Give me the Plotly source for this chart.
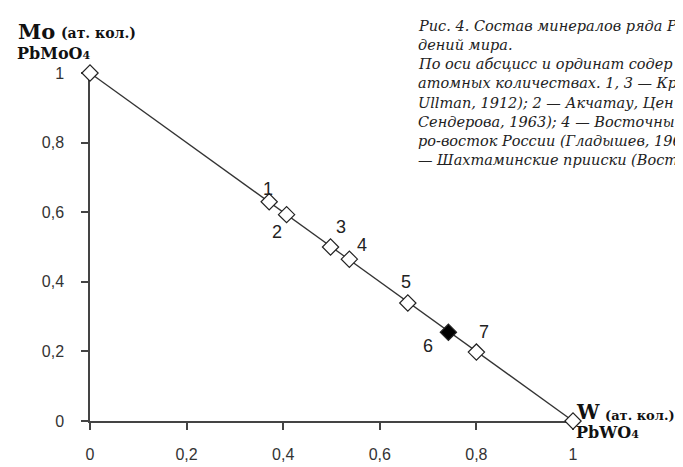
import plotly.graph_objects as go

# ---- data ----
line_x = [0, 1]
line_y = [1, 0]
end_x = [0, 1]
end_y = [1, 0]
pt_labels = ["1", "2", "3", "4", "5", "6", "7"]
pt_x = [0.371, 0.407, 0.498, 0.537, 0.658, 0.742, 0.800]
pt_y = [0.630, 0.593, 0.500, 0.465, 0.339, 0.255, 0.198]
pt_filled = [False, False, False, False, False, True, False]
tick_vals = [0, 0.2, 0.4, 0.6, 0.8, 1]
tick_text = ["0", "0,2", "0,4", "0,6", "0,8", "1"]

caption_lines = [
    "Рис. 4. Состав минералов ряда PbMo",
    "дений мира.",
    "По оси абсцисс и ординат содер",
    "атомных количествах. 1, 3 — Кра",
    "Ullman, 1912); 2 — Акчатау, Цен",
    "Сендерова, 1963); 4 — Восточны",
    "ро-восток России (Гладышев, 196",
    "— Шахтаминские прииски (Вост",
]

# ---- layout helpers (pixel -> paper) ----
W, H = 683, 467
L, R, T, B = 82, 118, 65, 37
PW, PH = W - L - R, H - T - B


def px(x):
    return (x - L) / PW


def py(y):
    return (H - B - y) / PH


label_dx = [-1, -10, 10, 13, -2, -20, 8]
label_dy = [13, -17, 20, 14, 21, -14, 20]

fig = go.Figure()
fig.add_trace(go.Scatter(
    x=line_x, y=line_y, mode="lines",
    line=dict(color="#333333", width=1.3),
    hoverinfo="skip", showlegend=False, cliponaxis=False,
))
fig.add_trace(go.Scatter(
    x=end_x, y=end_y, mode="markers",
    marker=dict(symbol="diamond", size=12.5, color="white",
                line=dict(color="#222222", width=1.2)),
    showlegend=False, cliponaxis=False,
))
fig.add_trace(go.Scatter(
    x=pt_x, y=pt_y, mode="markers",
    marker=dict(symbol="diamond", size=12.5,
                color=["black" if f else "white" for f in pt_filled],
                line=dict(color="#222222", width=1.2)),
    showlegend=False, cliponaxis=False,
))

ann = []
for lab, x, y, dx, dy in zip(pt_labels, pt_x, pt_y, label_dx, label_dy):
    ann.append(dict(x=x, y=y, xref="x", yref="y", text=lab, showarrow=False,
                    xshift=dx, yshift=dy,
                    font=dict(family="Liberation Sans", size=18, color="#222222")))

serif_b = "DejaVu Serif"
ann += [
    dict(x=px(8), y=py(21), xref="paper", yref="paper", xanchor="left", yanchor="middle",
         text="<b>Mo</b>", showarrow=False, font=dict(family=serif_b, size=21, color="#111")),
    dict(x=px(51), y=py(23), xref="paper", yref="paper", xanchor="left", yanchor="middle",
         text="<b>(ат. кол.)</b>", showarrow=False, font=dict(family=serif_b, size=14, color="#111")),
    dict(x=px(7), y=py(45), xref="paper", yref="paper", xanchor="left", yanchor="middle",
         text="<b>PbMoO<span style='font-size:11px'>4</span></b>", showarrow=False,
         font=dict(family=serif_b, size=16, color="#111")),
    dict(x=px(566), y=py(421), xref="paper", yref="paper", xanchor="left", yanchor="middle",
         text="<b>W</b>", showarrow=False, font=dict(family=serif_b, size=20, color="#111")),
    dict(x=px(595), y=py(424), xref="paper", yref="paper", xanchor="left", yanchor="middle",
         text="<b>(ат. кол.)</b>", showarrow=False, font=dict(family=serif_b, size=13, color="#111")),
    dict(x=px(566), y=py(442), xref="paper", yref="paper", xanchor="left", yanchor="middle",
         text="<b>PbWO<span style='font-size:11px'>4</span></b>", showarrow=False,
         font=dict(family=serif_b, size=16, color="#111")),
]
for i, s in enumerate(caption_lines):
    ann.append(dict(x=px(408), y=py(16 + 20 * i), xref="paper", yref="paper",
                    xanchor="left", yanchor="middle", align="left",
                    text="<i>%s</i>" % s, showarrow=False,
                    font=dict(family="DejaVu Serif", size=14.5, color="#222")))

axis_common = dict(
    range=[0, 1], showgrid=False, zeroline=False, showline=True,
    linecolor="#444444", linewidth=1.5, ticks="outside", ticklen=7, tickwidth=1.5,
    tickcolor="#444444", tickvals=tick_vals, ticktext=tick_text,
    tickfont=dict(family="Liberation Sans", size=16, color="#333333"),
    layer="below traces", fixedrange=True,
)

fig.update_layout(
    width=W, height=H, margin=dict(l=L, r=R, t=T, b=B, pad=0),
    plot_bgcolor="white", paper_bgcolor="white",
    xaxis=dict(**axis_common, ticklabelstandoff=11),
    yaxis=dict(**axis_common, ticklabelstandoff=14),
    annotations=ann, separators=", ",
)

fig.write_html("out.html")
